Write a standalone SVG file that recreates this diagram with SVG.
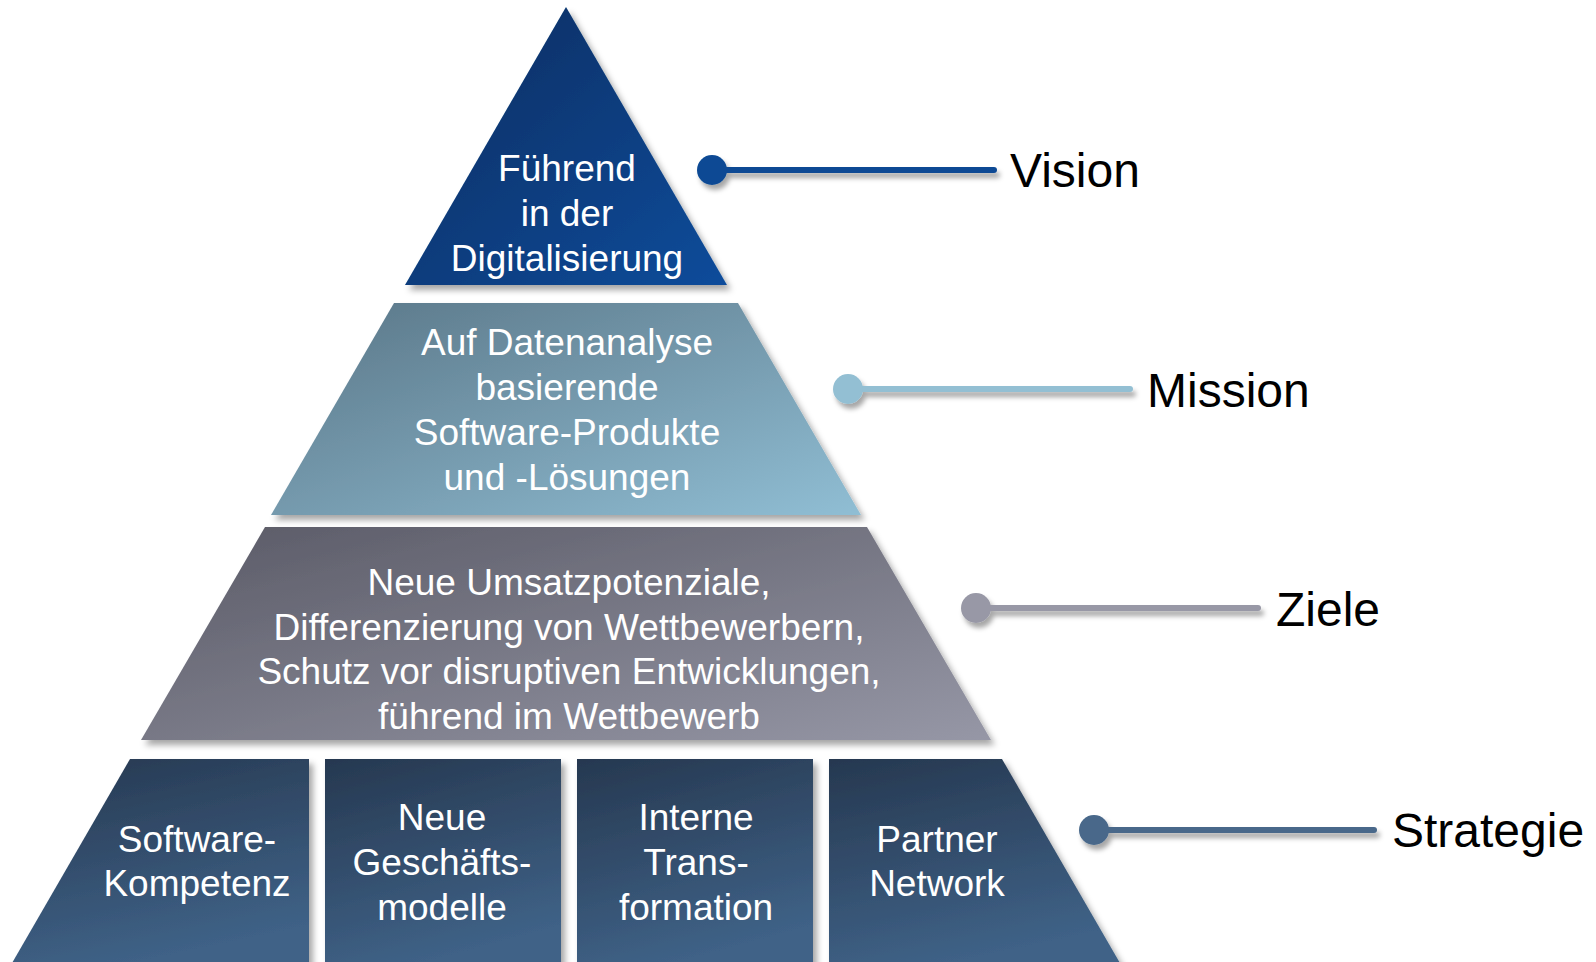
<svg xmlns="http://www.w3.org/2000/svg" width="1596" height="962" viewBox="0 0 1596 962">
  <defs>
    <linearGradient id="g1" x1="0" y1="0" x2="1" y2="1">
      <stop offset="0" stop-color="#062c5e"/>
      <stop offset="1" stop-color="#0b4c9b"/>
    </linearGradient>
    <linearGradient id="g2" x1="0" y1="0" x2="1" y2="1">
      <stop offset="0" stop-color="#5a7687"/>
      <stop offset="1" stop-color="#90bed4"/>
    </linearGradient>
    <linearGradient id="g3" x1="0" y1="0" x2="1" y2="1">
      <stop offset="0" stop-color="#5a5a66"/>
      <stop offset="1" stop-color="#9697a6"/>
    </linearGradient>
    <linearGradient id="g4" x1="0" y1="0" x2="0.3" y2="1">
      <stop offset="0" stop-color="#263850"/>
      <stop offset="1" stop-color="#3f6287"/>
    </linearGradient>
    <filter id="sh" x="-10%" y="-10%" width="130%" height="130%">
      <feDropShadow dx="4" dy="5" stdDeviation="3" flood-color="#000" flood-opacity="0.35"/>
    </filter>
    <filter id="shs" x="-20%" y="-100%" width="140%" height="400%">
      <feDropShadow dx="3" dy="5" stdDeviation="2.5" flood-color="#000" flood-opacity="0.35"/>
    </filter>
  </defs>
  <style>
    .t { font-family: "Liberation Sans", Arial, sans-serif; font-size: 37px; fill: #ffffff; text-anchor: middle; }
    .lbl { font-family: "Liberation Sans", Arial, sans-serif; font-size: 48px; fill: #000000; }
    .ln { stroke-width: 6; stroke-linecap: round; fill: none; }
  </style>
  <rect width="1596" height="962" fill="#ffffff"/>

  <g id="vision-node">
    <polygon points="566,7 727,285 405,285" fill="url(#g1)" filter="url(#sh)"/>
    <text class="t" x="567" y="181">Führend</text>
    <text class="t" x="567" y="226">in der</text>
    <text class="t" x="567" y="271">Digitalisierung</text>
  </g>

  <g id="mission-node">
    <polygon points="394,303 738,303 861,515 271,515" fill="url(#g2)" filter="url(#sh)"/>
    <text class="t" x="567" y="355">Auf Datenanalyse</text>
    <text class="t" x="567" y="400">basierende</text>
    <text class="t" x="567" y="445">Software-Produkte</text>
    <text class="t" x="567" y="490">und -Lösungen</text>
  </g>

  <g id="ziele-node">
    <polygon points="265,527 867,527 991,740 141,740" fill="url(#g3)" filter="url(#sh)"/>
    <text class="t" x="569" y="595">Neue Umsatzpotenziale,</text>
    <text class="t" x="569" y="640">Differenzierung von Wettbewerbern,</text>
    <text class="t" x="569" y="684">Schutz vor disruptiven Entwicklungen,</text>
    <text class="t" x="569" y="729">führend im Wettbewerb</text>
  </g>

  <g id="strategie-software">
    <polygon points="130,759 309,759 309,970 8,970" fill="url(#g4)" filter="url(#sh)"/>
    <text class="t" x="197" y="852">Software-</text>
    <text class="t" x="197" y="896">Kompetenz</text>
  </g>
  <g id="strategie-geschaeft">
    <rect x="325" y="759" width="236" height="211" fill="url(#g4)" filter="url(#sh)"/>
    <text class="t" x="442" y="830">Neue</text>
    <text class="t" x="442" y="875">Geschäfts-</text>
    <text class="t" x="442" y="920">modelle</text>
  </g>
  <g id="strategie-transformation">
    <rect x="577" y="759" width="236" height="211" fill="url(#g4)" filter="url(#sh)"/>
    <text class="t" x="696" y="830">Interne</text>
    <text class="t" x="696" y="875">Trans-</text>
    <text class="t" x="696" y="920">formation</text>
  </g>
  <g id="strategie-partner">
    <polygon points="829,759 1002,759 1124,970 829,970" fill="url(#g4)" filter="url(#sh)"/>
    <text class="t" x="937" y="852">Partner</text>
    <text class="t" x="937" y="896">Network</text>
  </g>

  <g id="connectors">
    <g filter="url(#shs)">
      <line class="ln" x1="712" y1="170" x2="994" y2="170" stroke="#0b4a94"/>
      <circle cx="712" cy="170" r="15" fill="#0b4a94"/>
    </g>
    <g filter="url(#shs)">
      <line class="ln" x1="848" y1="389" x2="1130" y2="389" stroke="#93bfd3"/>
      <circle cx="848" cy="389" r="15" fill="#93bfd3"/>
    </g>
    <g filter="url(#shs)">
      <line class="ln" x1="976" y1="608" x2="1258" y2="608" stroke="#9898a6"/>
      <circle cx="976" cy="608" r="15" fill="#9898a6"/>
    </g>
    <g filter="url(#shs)">
      <line class="ln" x1="1094" y1="830" x2="1374" y2="830" stroke="#48688a"/>
      <circle cx="1094" cy="830" r="15" fill="#48688a"/>
    </g>
  </g>

  <g id="labels">
    <text class="lbl" x="1010" y="187">Vision</text>
    <text class="lbl" x="1147" y="407">Mission</text>
    <text class="lbl" x="1276" y="626">Ziele</text>
    <text class="lbl" x="1392" y="847">Strategie</text>
  </g>
</svg>
